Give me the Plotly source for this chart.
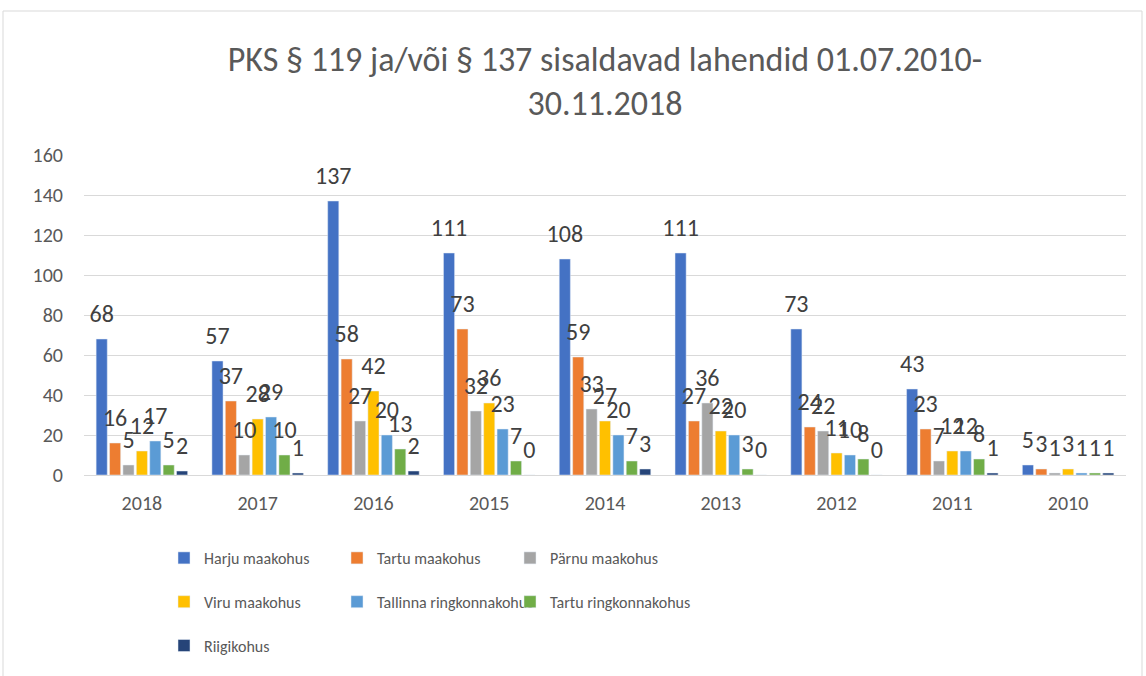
import plotly.graph_objects as go

years = ["2018", "2017", "2016", "2015", "2014", "2013", "2012", "2011", "2010"]
harju = [68, 57, 137, 111, 108, 111, 73, 43, 5]
tartu_mk = [16, 37, 58, 73, 59, 27, 24, 23, 3]
parnu = [5, 10, 27, 32, 33, 36, 22, 7, 1]
viru = [12, 28, 42, 36, 27, 22, 11, 12, 3]
tallinna_rk = [17, 29, 20, 23, 20, 20, 10, 12, 1]
tartu_rk = [5, 10, 13, 7, 7, 3, 8, 8, 1]
riigikohus = [2, 1, 2, 0, 3, 0, 0, 1, 1]

# legend column assignment (3 columns, row-wise like the reference)
series = [
    ("Harju maakohus", harju, "#4472C4", "legend"),
    ("Tartu maakohus", tartu_mk, "#ED7D31", "legend2"),
    ("Pärnu maakohus", parnu, "#A5A5A5", "legend3"),
    ("Viru maakohus", viru, "#FFC000", "legend"),
    ("Tallinna ringkonnakohus", tallinna_rk, "#5B9BD5", "legend2"),
    ("Tartu ringkonnakohus", tartu_rk, "#70AD47", "legend3"),
    ("Riigikohus", riigikohus, "#264478", "legend"),
]

FONT = "Calibri, Carlito, Lato, sans-serif"
BARGAP = 0.19

fig = go.Figure()
for name, vals, color, lg in series:
    fig.add_trace(go.Bar(
        name=name, x=years, y=vals, marker_color=color,
        offsetgroup=name, legend=lg, legendgroup=name, hoverinfo="skip",
    ))
for name, vals, color, lg in series:
    fig.add_trace(go.Scatter(
        x=years, y=vals, mode="markers+text", offsetgroup=name,
        marker=dict(size=16, color="rgba(0,0,0,0)"),
        text=[str(v) for v in vals], textposition="top center",
        textfont=dict(size=24, color="#404040", family=FONT),
        showlegend=False, cliponaxis=False, hoverinfo="skip",
    ))

L, R, T, B = 84, 20, 155, 201
W, H = 1146, 676
pw, ph = W - L - R, H - T - B

def px(x):
    return (x - L) / pw

def py(y):
    return (H - B - y) / ph

legend_common = dict(orientation="v",
                     font=dict(size=16, color="#595959", family=FONT),
                     bgcolor="rgba(0,0,0,0)", xanchor="left", yanchor="top",
                     itemclick=False, tracegroupgap=20)

fig.update_layout(
    width=W, height=H,
    margin=dict(l=L, r=R, t=T, b=B, autoexpand=False),
    paper_bgcolor="white", plot_bgcolor="white",
    title=dict(text="PKS § 119 ja/või § 137 sisaldavad lahendid 01.07.2010-<br>30.11.2018",
               x=0.5, xref="paper", xanchor="center", y=1 - 71 / H, yanchor="middle",
               font=dict(size=34, color="#595959", family=FONT)),
    barmode="group", bargap=BARGAP, bargroupgap=0.17,
    scattermode="group", scattergap=BARGAP,
    showlegend=True,
    legend=dict(x=px(164), y=py(541), **legend_common),
    legend2=dict(x=px(337), y=py(541), **legend_common),
    legend3=dict(x=px(510), y=py(541), **legend_common),
    xaxis=dict(showgrid=False, showline=True, linecolor="#D9D9D9", linewidth=1,
               ticks="", ticklabelstandoff=10,
               tickfont=dict(size=20, color="#595959", family=FONT)),
    yaxis=dict(range=[0, 160], dtick=20, showgrid=True, gridcolor="#D9D9D9", gridwidth=1,
               zeroline=False, showline=False, ticks="", ticklabelstandoff=20,
               tickfont=dict(size=20, color="#595959", family=FONT)),
    shapes=[dict(type="rect", xref="paper", yref="paper",
                 x0=px(3), x1=px(1142), y0=py(690), y1=py(11),
                 line=dict(color="#D9D9D9", width=1), fillcolor="rgba(0,0,0,0)", layer="below")],
)

fig.write_html("out.html", config={"displayModeBar": False},
               post_script="document.body.style.margin='0px';")
